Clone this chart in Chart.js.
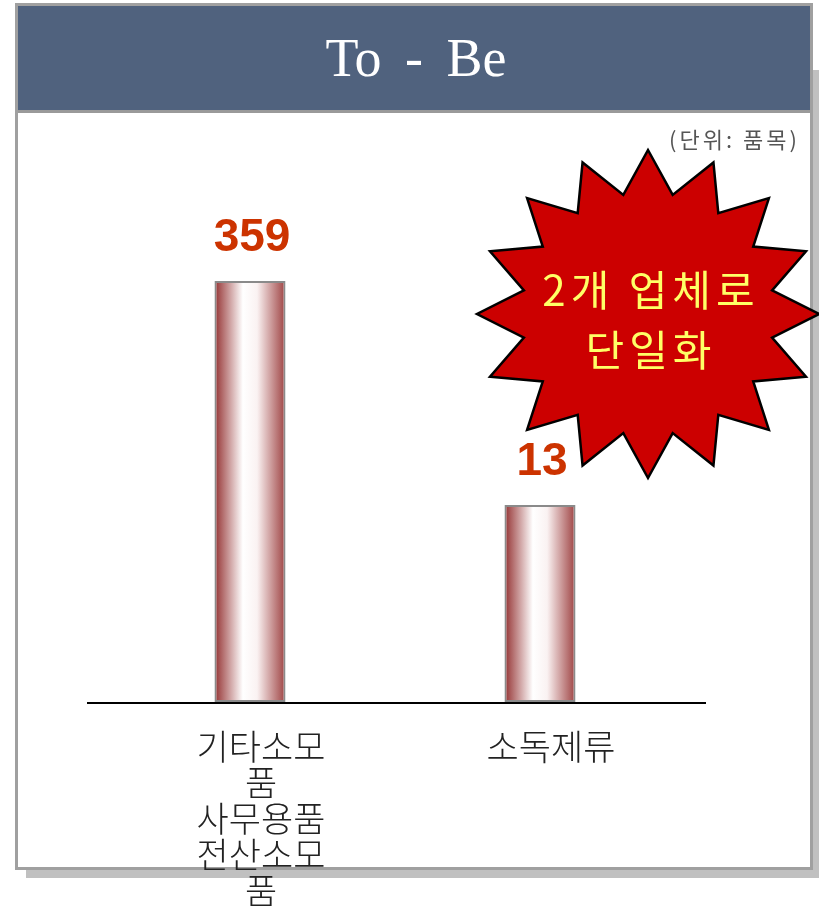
<!DOCTYPE html>
<html>
<head>
<meta charset="utf-8">
<script src="https://cdn.jsdelivr.net/npm/chart.js@4"></script>
<style>
  html, body { margin: 0; padding: 0; background: #fff; }
  canvas { display: block; }
</style>
</head>
<body>
<canvas id="chartToBe" width="819" height="910"></canvas>
<script>
// ==== DATOS ====
const categories = [["기타소모", "품", "사무용품", "전산소모", "품"], "소독제류"];
const itemCounts = [359, 13];
const titleText = "To - Be";
const unitText = "(단위: 품목)";
const calloutLines = ["2개 업체로", "단일화"];

const KR = '"Noto Sans CJK KR", "Noto Sans", sans-serif';

// gradient de las barras (rojo - blanco - rojo)
function barGradient(c) {
  const chart = c.chart;
  if (!chart.chartArea) return "#a04040";
  const xs = chart.scales.x;
  const cx = xs.getPixelForValue(c.dataIndex);
  const w = (xs.width / categories.length) * 0.245;
  const g = chart.ctx.createLinearGradient(cx - w / 2, 0, cx + w / 2, 0);
  g.addColorStop(0, "#933030");
  g.addColorStop(0.4, "#ffffff");
  g.addColorStop(0.6, "#faf2f2");
  g.addColorStop(1, "#9e4242");
  return g;
}

// ==== MARCO, TITULO, ETIQUETAS Y ESTRELLA ====
const decor = {
  id: "decor",
  beforeDraw(chart) {
    const ctx = chart.ctx;
    ctx.save();
    ctx.fillStyle = "#ffffff";
    ctx.fillRect(0, 0, chart.width, chart.height);
    // sombra
    ctx.fillStyle = "#c0c0c0";
    ctx.fillRect(26, 70, 793, 808);
    // caja
    ctx.fillStyle = "#ffffff";
    ctx.fillRect(16, 4, 796, 865);
    ctx.strokeStyle = "#a0a0a0";
    ctx.lineWidth = 3;
    ctx.strokeRect(16.5, 4.5, 795, 864);
    // barra de titulo
    ctx.fillStyle = "#50627e";
    ctx.fillRect(18, 6, 792, 104);
    ctx.fillStyle = "#9a9a9a";
    ctx.fillRect(18, 110, 792, 3);
    ctx.fillStyle = "#ffffff";
    ctx.font = '54px "Liberation Serif", "DejaVu Serif", serif';
    ctx.wordSpacing = "10px";
    ctx.textAlign = "center";
    ctx.textBaseline = "middle";
    ctx.fillText(titleText, 416, 62);
    ctx.wordSpacing = "0px";
    // unidad
    ctx.fillStyle = "#555555";
    ctx.font = "22px " + KR;
    ctx.letterSpacing = "3px";
    ctx.textAlign = "right";
    ctx.fillText(unitText, 800, 140);
    ctx.restore();
  },
  afterDatasetsDraw(chart) {
    const ctx = chart.ctx;
    const area = chart.chartArea;
    ctx.save();
    // linea base
    ctx.strokeStyle = "#000000";
    ctx.lineWidth = 2;
    ctx.beginPath();
    ctx.moveTo(area.left - 18, area.bottom + 1);
    ctx.lineTo(area.right + 21, area.bottom + 1);
    ctx.stroke();

    // valores
    const meta = chart.getDatasetMeta(0);
    ctx.fillStyle = "#cc3300";
    ctx.font = 'bold 46px "Liberation Sans", Arial, sans-serif';
    ctx.textAlign = "center";
    ctx.textBaseline = "alphabetic";
    meta.data.forEach((bar, i) => {
      ctx.fillText(String(itemCounts[i]), bar.x + 2, bar.y - 30);
    });

    // estrella
    const cx = 648, cy = 314, rx = 171, ry = 164, k = 0.74, n = 16;
    ctx.beginPath();
    for (let i = 0; i < n * 2; i++) {
      const a = -Math.PI / 2 + (i * Math.PI) / n;
      const f = i % 2 === 0 ? 1 : k;
      const px = cx + Math.cos(a) * rx * f;
      const py = cy + Math.sin(a) * ry * f;
      if (i === 0) ctx.moveTo(px, py);
      else ctx.lineTo(px, py);
    }
    ctx.closePath();
    ctx.fillStyle = "#cc0000";
    ctx.fill();
    ctx.strokeStyle = "#000000";
    ctx.lineWidth = 2.5;
    ctx.lineJoin = "miter";
    ctx.stroke();

    ctx.fillStyle = "#ffff66";
    ctx.font = "42px " + KR;
    ctx.letterSpacing = "5px";
    ctx.textBaseline = "middle";
    ctx.fillText(calloutLines[0], 651, 290);
    ctx.fillText(calloutLines[1], 651, 350);
    ctx.restore();
  }
};

const ctx = document.getElementById("chartToBe").getContext("2d");

new Chart(ctx, {
  type: "bar",
  data: {
    labels: categories,
    datasets: [{
      label: "품목",
      data: itemCounts,
      backgroundColor: barGradient,
      borderColor: "#8a8a8a",
      borderWidth: 2,
      borderSkipped: false,
      categoryPercentage: 1,
      barPercentage: 0.245
    }]
  },
  options: {
    responsive: false,
    animation: false,
    devicePixelRatio: 1,
    layout: { padding: { left: 105, right: 134, top: 281, bottom: 0 } },
    plugins: {
      legend: { display: false },
      tooltip: { enabled: false }
    },
    scales: {
      x: {
        grid: { display: false, drawTicks: false },
        border: { display: false },
        ticks: {
          color: "#222222",
          font: { family: KR, size: 35, weight: "300", lineHeight: 36 / 35 },
          padding: 27,
          labelOffset: 11,
          autoSkip: false,
          maxRotation: 0
        },
        afterFit: (axis) => { axis.height = 208; }
      },
      y: {
        type: "logarithmic",
        display: false,
        min: 0.7,
        max: Math.max(...itemCounts)
      }
    }
  },
  plugins: [decor]
});
</script>
</body>
</html>
